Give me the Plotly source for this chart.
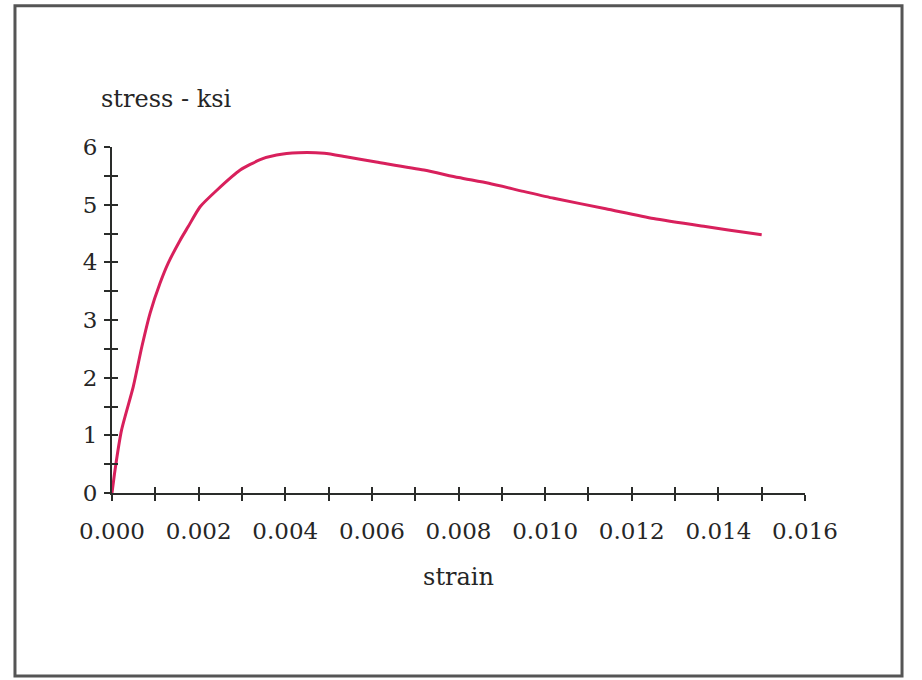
import plotly.graph_objects as go

# Data
strain = [0.0, 0.00007, 0.00022, 0.00049, 0.00069, 0.00088, 0.00111, 0.0013, 0.00157,
          0.00176, 0.00203, 0.00242, 0.00296, 0.00342, 0.0038, 0.0043, 0.0049, 0.0054,
          0.0061, 0.0072, 0.0080, 0.0087, 0.0095, 0.0102, 0.0114, 0.0125, 0.0137,
          0.0148, 0.0150]
stress = [0.0, 0.40, 1.09, 1.84, 2.54, 3.12, 3.64, 3.99, 4.38,
          4.62, 4.96, 5.25, 5.60, 5.78, 5.86, 5.90, 5.89, 5.83,
          5.74, 5.60, 5.47, 5.37, 5.23, 5.11, 4.93, 4.76, 4.62,
          4.50, 4.48]

x_range = [0, 0.016]
y_range = [0, 6]
x_title = "strain"
y_title = "stress - ksi"

AX = "#2a2c2a"
FONT = "DejaVu Serif"
TXT = "#262626"
CURVE = "#d8205c"

fig = go.Figure()
fig.add_trace(go.Scatter(x=strain, y=stress, mode="lines",
                         line=dict(color=CURVE, width=3, shape="spline", smoothing=0.6),
                         showlegend=False, cliponaxis=False))
# invisible trace for the overlay axes (ticks drawn inside so they cross the axis line)
fig.add_trace(go.Scatter(x=strain, y=stress, mode="lines", xaxis="x2", yaxis="y2",
                         line=dict(color="rgba(0,0,0,0)", width=0),
                         hoverinfo="skip", showlegend=False))

common = dict(showgrid=False, zeroline=False, tickcolor=AX, tickwidth=2, ticklen=6)

fig.update_layout(
    width=922, height=680,
    margin=dict(l=112, r=117, t=147, b=187),
    paper_bgcolor="white", plot_bgcolor="white",
    font=dict(family=FONT, color=TXT, size=23),
    xaxis=dict(range=x_range, dtick=0.002, tick0=0, tickformat=".3f",
               ticks="outside", showline=True, linecolor=AX, linewidth=2,
               minor=dict(dtick=0.001, ticks="outside", ticklen=6, tickwidth=2, tickcolor=AX),
               tickfont=dict(family=FONT, size=23, color=TXT),
               ticklabelstandoff=10,
               title=dict(text=x_title, font=dict(family=FONT, size=24, color=TXT),
                          standoff=26),
               **common),
    yaxis=dict(range=y_range, dtick=1, tick0=0,
               ticks="outside", showline=True, linecolor=AX, linewidth=2,
               minor=dict(dtick=0.5, ticks="outside", ticklen=6, tickwidth=2, tickcolor=AX),
               tickfont=dict(family=FONT, size=23, color=TXT),
               ticklabelstandoff=2,
               **common),
    xaxis2=dict(range=x_range, dtick=0.002, tick0=0, overlaying="x", anchor="y2", side="bottom",
                ticks="inside", showticklabels=False, showline=False,
                minor=dict(dtick=0.001, ticks="inside", ticklen=6, tickwidth=2, tickcolor=AX),
                **common),
    yaxis2=dict(range=y_range, dtick=1, tick0=0, overlaying="y", anchor="x2", side="left",
                ticks="inside", showticklabels=False, showline=False,
                minor=dict(dtick=0.5, ticks="inside", ticklen=6, tickwidth=2, tickcolor=AX),
                **common),
)

fig.add_annotation(text=y_title, xref="paper", yref="paper", x=0.078, y=1.14,
                   xanchor="center", yanchor="middle", showarrow=False,
                   font=dict(family=FONT, size=24, color=TXT))

# outer frame around the whole chart
fig.add_shape(type="rect", xref="paper", yref="paper",
              x0=-0.140, x1=1.140, y0=-0.529, y1=1.408,
              line=dict(color="#555555", width=3), fillcolor="rgba(0,0,0,0)", layer="below")

fig.write_html("out.html")
